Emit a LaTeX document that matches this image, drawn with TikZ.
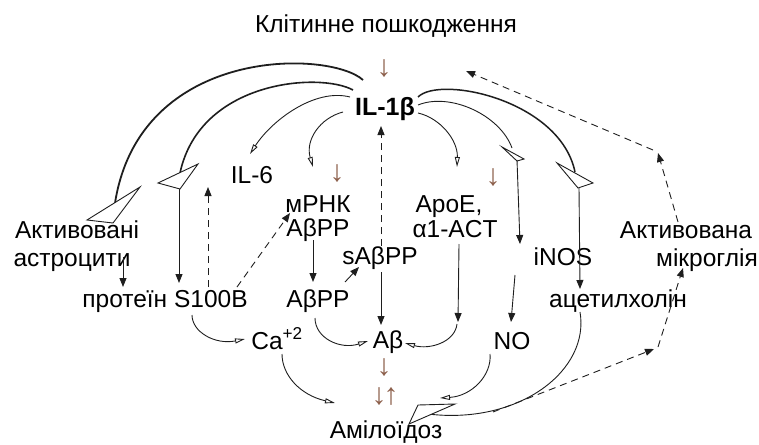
\documentclass[tikz,border=0pt]{standalone}
\usepackage{fontspec}
\setmainfont{Liberation Sans}
\usetikzlibrary{arrows.meta}
\definecolor{arrbrown}{RGB}{140,95,75}
\definecolor{ink}{RGB}{30,30,30}
\begin{document}
\begin{tikzpicture}[x=1pt,y=-1pt,
  txt/.style={inner sep=0pt, anchor=base, font=\fontsize{24.5}{28}\selectfont, text=black},
  glyph/.style={inner sep=0pt, anchor=center, font=\fontsize{30}{32}\selectfont, text=arrbrown},
  ln/.style={line width=0.9pt, draw=ink},
  heavy/.style={line width=1.8pt, draw=ink},
  fa/.style={-{Triangle[length=9pt,width=7pt]}},
  oa/.style={-{Triangle[open,length=10pt,width=5pt,fill=white]}},
  dsh/.style={dash pattern=on 7pt off 5pt},
  bighead/.style={draw=ink, line width=0.9pt, fill=white, line join=miter}]
\useasboundingbox (0,0) rectangle (759,444);

% ---------- texts ----------
\node[txt] (title) at (386,33) {Клітинне пошкодження};
\node[txt, font=\bfseries\fontsize{25}{28}\selectfont] (il1b) at (385,115) {IL-1β};
\node[txt] (il6) at (252,183) {IL-6};
\node[txt] (mrnk) at (318,212) {мРНК};
\node[txt] (abppA) at (318,236) {AβPP};
\node[txt] (sabpp) at (380,264) {sAβPP};
\node[txt] (apoe) at (449,212) {ApoE,};
\node[txt] (act) at (455,237) {α1-ACT};
\node[txt] (inos) at (563,265) {iNOS};
\node[txt] (aktm) at (686,238) {Активована};
\node[txt] (mikro) at (707,266) {мікроглія};
\node[txt] (akta) at (77,238) {Активовані};
\node[txt] (astro) at (72,266) {астроцити};
\node[txt] (s100) at (165,307) {протеїн S100B};
\node[txt] (abppB) at (318,307) {AβPP};
\node[txt] (acet) at (618,307) {ацетилхолін};
\node[txt] (ca) at (277,349) {Ca\textsuperscript{+2}};
\node[txt] (ab) at (388,348) {Aβ};
\node[txt] (no) at (512,349) {NO};
\node[txt] (amyl) at (386,438) {Амілоїдоз};

\node[glyph] (g0) at (384,69) {↓};
\node[glyph] (g1) at (337,174) {↓};
\node[glyph] (g2) at (493,178) {↓};
\node[glyph] (g3) at (384,368) {↓};
\node[glyph] (g4) at (379,397) {↓};
\node[glyph] (g5) at (391,397) {↑};

% ---------- named points ----------
\coordinate (L1) at (363,80);
\coordinate (L2) at (353,90);
\coordinate (L3) at (350,97);
\coordinate (L4) at (343,112);
\coordinate (R1) at (418,97);
\coordinate (R2) at (418,105);
\coordinate (R3) at (418,113);
\coordinate (h1) at (115,203);
\coordinate (h2) at (180,173);
\coordinate (h2b) at (179,189);
\coordinate (h3) at (575,172);
\coordinate (h3b) at (579,188);
\coordinate (h4) at (512,148);
\coordinate (h4b) at (517,160);
\coordinate (hA) at (428,414);

% ---------- IL-1beta curves ----------
\draw[heavy] (L1) .. controls (330,50) and (140,45) .. (h1);
\filldraw[bighead] (87,220) -- (140,187) -- (113,223) -- cycle;
\draw[heavy, line width=1.6pt] (L2) .. controls (320,72) and (200,80) .. (h2);
\filldraw[bighead] (158,183) -- (198,164) -- (180,189) -- cycle;
\draw[ln, oa] (L3) .. controls (315,88) and (272,120) .. (250,154);
\draw[ln, oa] (L4) .. controls (320,118) and (305,140) .. (313,167);

\draw[heavy, line width=1.5pt] (R1) .. controls (440,75) and (560,100) .. (h3);
\filldraw[bighead] (557,163) -- (593,183) -- (578,188) -- cycle;
\draw[ln] (R2) .. controls (450,92) and (500,115) .. (h4);
\filldraw[bighead] (502,147) -- (524,159) -- (517,161) -- cycle;
\draw[ln, oa] (R3) .. controls (440,118) and (458,140) .. (457,167);

% ---------- vertical links ----------
\draw[ln, fa] (h2b) -- (179,283);
\draw[ln, fa] (h3b) -- (580,289);
\draw[ln, fa] (h4b) -- (520,244);
\draw[ln, fa] (123,257) -- (123,287);
\draw[ln, fa] (313,240) -- (313,282);
\draw[ln, fa] (381,272) -- (381,325);
\draw[ln, fa] (459,244) -- (458,322);
\draw[ln, fa] (515,275) -- (511,322);

% ---------- dashed ----------
\draw[ln, dsh, fa] (381,246) -- (381,126);
\draw[ln, dsh, fa] (208,287) -- (208,187);
\draw[ln, dsh, fa] (237,287) -- (290,213);
\draw[ln, fa] (345,282) -- (359,267);
\draw[ln, dsh, fa] (493,412) -- (654,349);
\draw[ln, dsh, fa] (658,347) -- (683,268);
\draw[ln, dsh, fa] (678,222) -- (658,153);
\draw[ln, dsh, fa] (653,150) -- (466,71);

% ---------- lower curves ----------
\draw[ln, oa] (192,315) .. controls (192,332) and (215,345) .. (245,339);
\draw[ln, oa] (315,318) .. controls (315,338) and (340,350) .. (368,341);
\draw[ln, oa] (457,324) .. controls (455,342) and (430,350) .. (405,343);
\draw[ln, oa] (282,354) .. controls (282,375) and (300,395) .. (335,403);
\draw[ln, oa] (490,354) .. controls (492,375) and (472,396) .. (440,398);
\draw[ln] (580,312) .. controls (590,370) and (520,425) .. (hA);
\filldraw[bighead] (409,424) -- (418,405) -- (455,404) -- cycle;
\end{tikzpicture}
\end{document}
